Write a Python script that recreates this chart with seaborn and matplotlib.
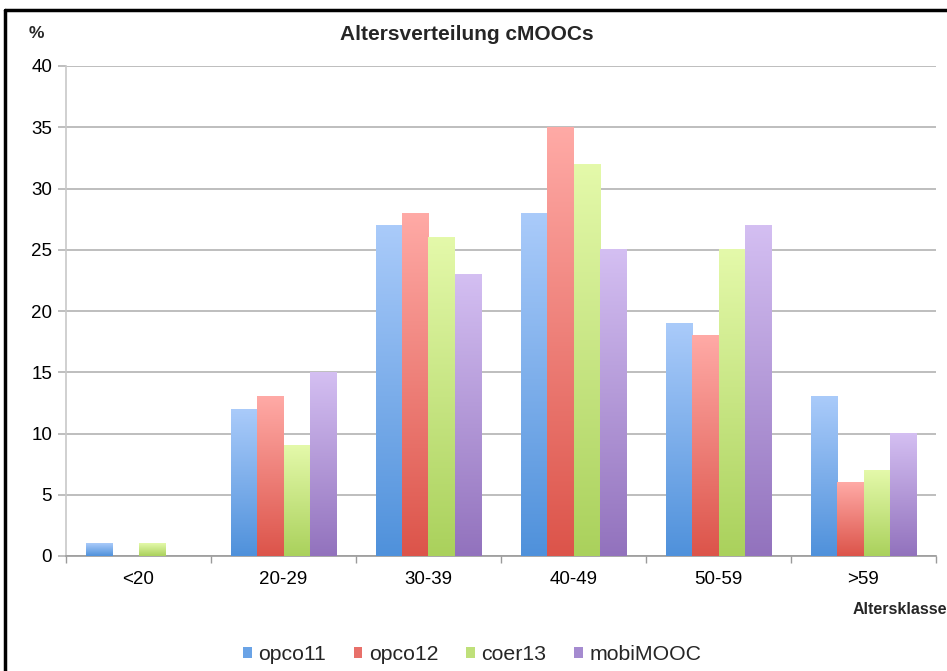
import numpy as np
import pandas as pd
import matplotlib
matplotlib.use("Agg")
import matplotlib.pyplot as plt
from matplotlib.colors import LinearSegmentedColormap
from matplotlib.lines import Line2D
from matplotlib.patches import Patch
import seaborn as sns

categories = ["<20", "20-29", "30-39", "40-49", "50-59", ">59"]
series = ["opco11", "opco12", "coer13", "mobiMOOC"]
opco11 = [1, 12, 27, 28, 19, 13]
opco12 = [0, 13, 28, 35, 18, 6]
coer13 = [1, 9, 26, 32, 25, 7]
mobiMOOC = [0, 15, 23, 25, 27, 10]
y_ticks = [0, 5, 10, 15, 20, 25, 30, 35, 40]

# (bottom colour, top colour, legend colour)
colors = {
    "opco11": ("#4f91db", "#aacbfa", "#6aa3e6"),
    "opco12": ("#dc544a", "#ffaaa6", "#e8706a"),
    "coer13": ("#aad15c", "#e4f9aa", "#bfe07a"),
    "mobiMOOC": ("#9272bd", "#d4bff2", "#a58bd0"),
}

df = pd.DataFrame({
    "Altersklasse": categories * 4,
    "Serie": sum([[s] * len(categories) for s in series], []),
    "Wert": opco11 + opco12 + coer13 + mobiMOOC,
})

sns.set_theme(style="white")
plt.rcParams["font.family"] = ["Liberation Sans", "DejaVu Sans"]

fig = plt.figure(figsize=(9.47, 6.71), dpi=100)
ax = fig.add_axes([66 / 947, 1 - 556 / 671, (936 - 66) / 947, (556 - 66) / 671])

palette = {s: colors[s][2] for s in series}
sns.barplot(data=df, x="Altersklasse", y="Wert", hue="Serie", order=categories,
            hue_order=series, palette=palette, width=0.72, gap=0,
            saturation=1, ax=ax, legend=False, linewidth=0, zorder=3)

# gradient fill for each bar
grad = np.linspace(0, 1, 256).reshape(-1, 1)
bars = [p for p in ax.patches]
n = len(categories)
for i, p in enumerate(bars):
    s = series[i // n]
    h = p.get_height()
    if h <= 0:
        continue
    x0 = p.get_x()
    w = p.get_width()
    cmap = LinearSegmentedColormap.from_list(s, [colors[s][0], colors[s][1]])
    ax.imshow(grad, extent=[x0, x0 + w, 0, h], origin="lower", aspect="auto",
              cmap=cmap, zorder=4, interpolation="bilinear")

ax.set_xlim(-0.5, n - 0.5)
ax.set_ylim(0, 40)
ax.set_yticks(y_ticks)
ax.set_yticklabels([str(v) for v in y_ticks], fontsize=13.5)
ax.yaxis.grid(True, color="#b3b3b3", linewidth=1.2, zorder=0)
ax.set_axisbelow(True)
ax.set_xlabel("")
ax.set_ylabel("")

ax.set_xticks(range(n))
ax.set_xticklabels(categories, fontsize=13.5)
ax.tick_params(axis="x", which="major", length=0, pad=11, colors="black")
ax.set_xticks(np.arange(-0.5, n, 1.0), minor=True)
ax.tick_params(axis="x", which="minor", length=5, color="#9a9a9a", width=1, bottom=True)
ax.tick_params(axis="y", length=6, color="#b3b3b3", width=1.2, left=True, pad=4, labelcolor="black")

for side in ["top", "right"]:
    ax.spines[side].set_visible(False)
ax.spines["left"].set_color("#c8c8c8")
ax.spines["left"].set_linewidth(1.2)
ax.spines["bottom"].set_color("#9a9a9a")
ax.spines["bottom"].set_linewidth(1.2)

fig.text(467 / 947, 1 - 35 / 671, "Altersverteilung cMOOCs", ha="center", va="center",
         fontsize=15, fontweight="bold")
fig.text(36 / 947, 1 - 33 / 671, "%", ha="center", va="center", fontsize=12.5, fontweight="bold")
fig.text(853 / 947, 1 - 609 / 671, "Altersklasse", ha="left", va="center", fontsize=11.5,
         fontweight="bold")

handles = [Patch(facecolor=colors[s][2], edgecolor="none") for s in series]
fig.legend(handles, series, loc="center", bbox_to_anchor=(472 / 947, 1 - 655 / 671),
           ncol=4, frameon=False, fontsize=15.3, handlelength=0.42, handleheight=0.42,
           handletextpad=0.3, columnspacing=1.3)

# frame of the original screenshot
fig.add_artist(Line2D([5 / 947, 1], [1 - 10 / 671, 1 - 10 / 671], color="black",
                      linewidth=2.5, transform=fig.transFigure))
fig.add_artist(Line2D([5 / 947, 5 / 947], [1 - 10 / 671, 0], color="black",
                      linewidth=2.5, transform=fig.transFigure))

fig.savefig("out.png", dpi=100)
